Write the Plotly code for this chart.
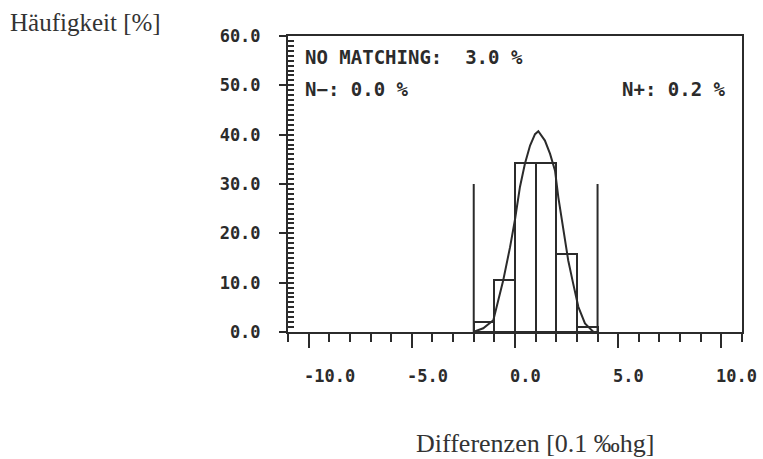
import plotly.graph_objects as go

# Histogram of the differences (bins of width 1 between the limits)
bin_edges = [-2, -1, 0, 1, 2, 3, 4]
bar_heights = [2.1, 10.5, 34.2, 34.2, 15.9, 1.1]

# Limit markers
limit_pos = [-2, 4]
limit_height = 30.0

# Fitted distribution curve (polyline points)
curve_x = [-2.02, -1.54, -1.05, -0.57, -0.24, 0.0, 0.24, 0.48, 0.73, 0.97, 1.13,
           1.45, 1.70, 1.94, 2.10, 2.34, 2.58, 2.82, 3.07, 3.39, 3.79, 3.96]
curve_y = [0.0, 0.75, 2.4, 10.5, 17.2, 22.8, 29.4, 34.1, 37.8, 40.1, 40.7,
           38.8, 36.1, 32.7, 27.3, 20.6, 14.5, 9.8, 5.1, 1.75, 0.06, 0.0]

# Axis ticks
x_range = [-11, 11]
y_range = [0, 60]
x_tick_vals = [-10, -5, 0, 5, 10]
x_tick_text = [f"{v:.1f}" for v in x_tick_vals]
y_tick_vals = [0, 10, 20, 30, 40, 50, 60]
y_tick_text = [f"{v:.1f}" for v in y_tick_vals]
y_fine_step = 1

# Summary values shown in the frame
no_matching = 3.0
n_minus = 0.0
n_plus = 0.2

INK = "#2b2b2b"
MONO = "DejaVu Sans Mono"
SERIF = "Liberation Serif"

bin_centers = [(a + b) / 2 for a, b in zip(bin_edges[:-1], bin_edges[1:])]
bin_widths = [b - a for a, b in zip(bin_edges[:-1], bin_edges[1:])]

# every unit gets an inner comb tick, only the decades carry a label
y_comb_vals = list(range(y_range[0], y_range[1] + 1, y_fine_step))
label_of = dict(zip(y_tick_vals, y_tick_text))
y_comb_text = [label_of.get(v, "") for v in y_comb_vals]

fig = go.Figure()

fig.add_trace(go.Bar(
    x=bin_centers, y=bar_heights, width=bin_widths,
    marker=dict(color="rgba(0,0,0,0)", line=dict(color=INK, width=2)),
    hoverinfo="skip", showlegend=False,
))

lx, ly = [], []
for p in limit_pos:
    lx += [p, p, None]
    ly += [0, limit_height, None]
fig.add_trace(go.Scatter(
    x=lx, y=ly, mode="lines", line=dict(color=INK, width=2),
    hoverinfo="skip", showlegend=False,
))

fig.add_trace(go.Scatter(
    x=curve_x, y=curve_y, mode="lines", line=dict(color=INK, width=2),
    hoverinfo="skip", showlegend=False,
))

# transparent trace so the decade-tick axis is drawn
fig.add_trace(go.Scatter(
    x=[x_range[0], x_range[0]], y=y_range, yaxis="y2", mode="lines",
    line=dict(color="rgba(0,0,0,0)", width=0), showlegend=False,
))

annotations = []
for v, t in zip(x_tick_vals, x_tick_text):
    annotations.append(dict(
        x=v, y=-0.149, xref="x", yref="paper", text=t, showarrow=False,
        xanchor="left", yanchor="middle", xshift=-7,
        font=dict(family=MONO, size=17, color=INK, weight="bold"),
    ))

box_font = dict(family=MONO, size=19, color=INK, weight="bold")
annotations += [
    dict(x=-10.27, y=55.7, xref="x", yref="y",
         text=f"NO MATCHING:  {no_matching:.1f} %", showarrow=False,
         xanchor="left", yanchor="middle", font=box_font),
    dict(x=-10.27, y=49.3, xref="x", yref="y",
         text=f"N\u2212: {n_minus:.1f} %", showarrow=False,
         xanchor="left", yanchor="middle", font=box_font),
    dict(x=10.32, y=49.3, xref="x", yref="y",
         text=f"N+: {n_plus:.1f} %", showarrow=False,
         xanchor="right", yanchor="middle", font=box_font),
    dict(x=-0.617, y=1.047, xref="paper", yref="paper",
         text="Häufigkeit [%]", showarrow=False,
         xanchor="left", yanchor="middle",
         font=dict(family=SERIF, size=25, color="#333333")),
    dict(x=0.544, y=-0.375, xref="paper", yref="paper",
         text="Differenzen [0.1 \u2030hg]", showarrow=False,
         xanchor="center", yanchor="middle",
         font=dict(family=SERIF, size=26, color="#333333")),
]

fig.update_layout(
    width=763, height=459,
    margin=dict(l=288, r=21, t=36, b=127),
    paper_bgcolor="white", plot_bgcolor="white",
    bargap=0,
    annotations=annotations,
    xaxis=dict(
        range=x_range, showgrid=False, zeroline=False,
        showline=True, linecolor=INK, linewidth=2, mirror=True,
        ticks="outside", tickvals=x_tick_vals, ticklen=14, tickwidth=2,
        tickcolor=INK, showticklabels=False,
        minor=dict(dtick=1, tick0=0, ticks="outside", ticklen=8,
                   tickwidth=2, tickcolor=INK, showgrid=False),
    ),
    yaxis=dict(
        range=y_range, showgrid=False, zeroline=False,
        showline=True, linecolor=INK, linewidth=2, mirror=True,
        tickmode="array", tickvals=y_comb_vals, ticktext=y_comb_text,
        ticks="inside", ticklen=6, tickwidth=1.6, tickcolor=INK,
        tickfont=dict(family=MONO, size=17, color=INK, weight="bold"),
        ticklabelstandoff=22,
    ),
    yaxis2=dict(
        range=y_range, overlaying="y", side="left", anchor="x",
        showgrid=False, zeroline=False, showline=False,
        tickmode="array", tickvals=y_tick_vals,
        ticks="outside", ticklen=8, tickwidth=2, tickcolor=INK,
        showticklabels=False,
    ),
)

fig.write_html("out.html")
